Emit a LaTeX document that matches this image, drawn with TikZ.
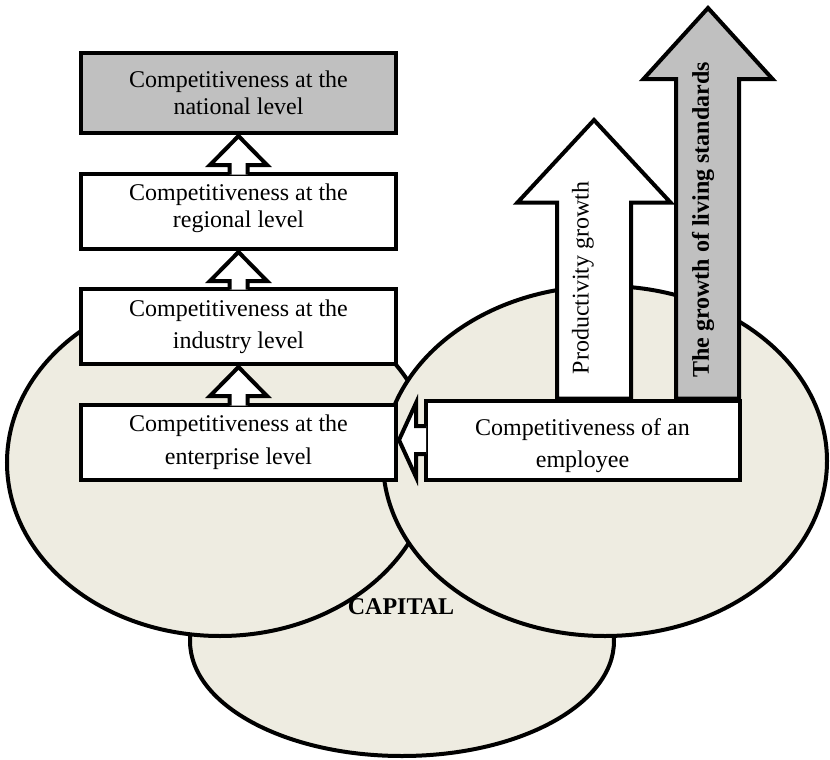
\documentclass[tikz,border=0pt]{standalone}
\usepackage{fontspec}
\setmainfont{Liberation Serif}
\usetikzlibrary{calc,shapes.geometric}
\definecolor{beige}{HTML}{EEECE1}
\definecolor{boxgray}{HTML}{C0C0C0}
\pgfdeclarelayer{bg}
\pgfdeclarelayer{mid}
\pgfsetlayers{bg,mid,main}
\newcommand\blockup[2]{% #1 upper node (tip), #2 lower node (tail)
  \fill[white] ($(#2.north)+(-9,2.5)$) -- ($(#1.south)+(-9,30)$) -- ($(#1.south)+(-28.5,30)$)
    -- ($(#1.south)+(0,1)$) -- ($(#1.south)+(28.5,30)$) -- ($(#1.south)+(9,30)$)
    -- ($(#2.north)+(9,2.5)$) -- cycle;
  \draw[arrline] ($(#2.north)+(-9,2.5)$) -- ($(#1.south)+(-9,30)$) -- ($(#1.south)+(-28.5,30)$)
    -- ($(#1.south)+(0,1)$) -- ($(#1.south)+(28.5,30)$) -- ($(#1.south)+(9,30)$)
    -- ($(#2.north)+(9,2.5)$);
}
\begin{document}
\begin{tikzpicture}[x=0.5pt,y=-0.5pt,
  blob/.style={ellipse, draw=black, line width=2pt, fill=beige, inner sep=0pt},
  levelbox/.style={draw=black, line width=2pt, fill=white, inner sep=0pt,
    minimum width=157.5pt, align=center},
  arrline/.style={draw=black, line width=2pt, line join=miter},
  txt/.style={font=\fontsize{12}{14}\selectfont}]
\useasboundingbox (0,0) rectangle (830,760);

% background circles
\begin{pgfonlayer}{bg}
\node[blob, minimum width=212pt, minimum height=115pt] (capblob) at (402,641) {};
\node[blob, minimum width=213pt, minimum height=173.5pt] (leftblob) at (220,462.5) {};
\node[blob, minimum width=222pt, minimum height=175pt] (rightblob) at (605,461) {};
\end{pgfonlayer}

% boxes
\node[levelbox, fill=boxgray, minimum height=40pt, font=\fontsize{12}{13.5}\selectfont]
  (nat) at (238.5,93) {Competitiveness at the\\national level};
\node[levelbox, minimum height=37.5pt, font=\fontsize{12}{13.5}\selectfont]
  (reg) at (238.5,211.5) {Competitiveness at the\\regional level\rule[-6pt]{0pt}{1pt}};
\node[levelbox, minimum height=37.5pt, font=\fontsize{12}{16}\selectfont]
  (ind) at (238.5,326.5) {Competitiveness at the\\industry level};
\node[levelbox, minimum height=37.5pt, font=\fontsize{12}{16.5}\selectfont]
  (ent) at (238.5,442.5) {Competitiveness at the\\enterprise level};
\node[levelbox, minimum width=157pt, minimum height=39.5pt, font=\fontsize{12}{16}\selectfont]
  (emp) at (582.5,440) {\rule{0pt}{14.5pt}Competitiveness of an\\employee};

% big upward arrows (behind employee box)
\coordinate (ptip) at (594,120);
\coordinate (ltip) at (708,8);
\begin{pgfonlayer}{mid}
\draw[arrline, fill=white] (emp.north -| 557,0) -- (557,202.5) -- (517.5,202.5) -- (ptip)
  -- (670.5,202.5) -- (631,202.5) -- (emp.north -| 631,0) -- cycle;
\draw[arrline, fill=boxgray] (emp.north -| 676,0) -- (676,79) -- (643.5,79) -- (ltip)
  -- (772.5,79) -- (739,79) -- (emp.north -| 739,0) -- cycle;
\end{pgfonlayer}
\node[txt, rotate=90] (prodtext) at (583,278) {Productivity growth};
\node[txt, rotate=90, font=\fontsize{12}{14}\selectfont\bfseries] (livtext) at (703,220) {The growth of living standards};

% level arrows
\blockup{nat}{reg}
\blockup{reg}{ind}
\blockup{ind}{ent}

% left arrow: employee -> enterprise
\fill[white] ($(emp.west)+(2.5,-14)$) -- ($(ent.east |- emp.west)+(18,-14)$) -- ($(ent.east |- emp.west)+(18,-37)$)
  -- ($(ent.east |- emp.west)+(1,0)$) -- ($(ent.east |- emp.west)+(18,37)$) -- ($(ent.east |- emp.west)+(18,14)$)
  -- ($(emp.west)+(2.5,14)$) -- cycle;
\draw[arrline] ($(emp.west)+(2.5,-14)$) -- ($(ent.east |- emp.west)+(18,-14)$) -- ($(ent.east |- emp.west)+(18,-37)$)
  -- ($(ent.east |- emp.west)+(1,0)$) -- ($(ent.east |- emp.west)+(18,37)$) -- ($(ent.east |- emp.west)+(18,14)$)
  -- ($(emp.west)+(2.5,14)$);

\node[font=\fontsize{12}{14}\selectfont\bfseries] (capital) at (401,607) {CAPITAL};
\end{tikzpicture}
\end{document}
